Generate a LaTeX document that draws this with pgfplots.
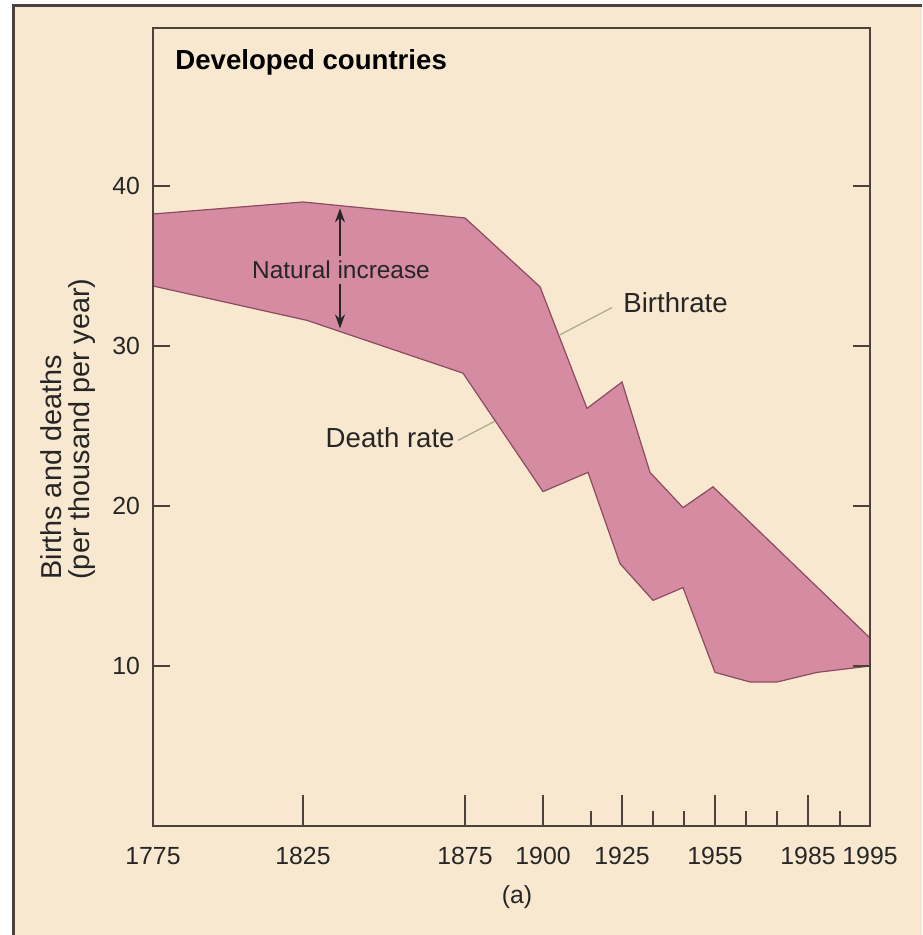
\documentclass[border=0pt]{standalone}
\usepackage{fontspec}
\setmainfont{Liberation Sans}
\usepackage{pgfplots}
\pgfplotsset{compat=1.18}
\usetikzlibrary{arrows.meta}
\definecolor{cream}{RGB}{249,232,208}
\definecolor{band}{RGB}{213,139,161}
\definecolor{bandedge}{RGB}{140,75,95}
\definecolor{axcol}{RGB}{75,66,60}
\definecolor{leader}{RGB}{165,170,145}
\begin{document}
\begin{tikzpicture}
\fill[white] (0,0) rectangle (461pt,467.5pt);
\fill[cream] (6pt,0) rectangle (461pt,465pt);
\draw[axcol, line width=1.5pt] (6.5pt,0) -- (6.5pt,464.75pt) -- (461pt,464.75pt);
\begin{axis}[
  at={(76.5pt,54.5pt)}, anchor=south west,
  scale only axis, width=358.5pt, height=399pt,
  xmin=153, xmax=870, ymin=0, ymax=49.875,
  clip=false, axis on top,
  axis line style={axcol, line width=0.8pt},
  xtick={303,465,543,622,715},
  xticklabels={1825,1875,1900,1925,1955},
  minor xtick={591,653,684,746,777,808,840},
  extra x ticks={153,808,870},
  extra x tick labels={1775,1985,1995},
  extra x tick style={/pgfplots/major tick length=0pt},
  ytick={10,20,30,40},
  ytick pos=both, yticklabel pos=left,
  xtick pos=bottom,
  tick align=inside,
  major x tick style={/pgfplots/major tick length=15.5pt},
  major y tick style={/pgfplots/major tick length=8.5pt},
  minor tick length=7.5pt,
  tick style={axcol, line width=0.8pt},
  ticklabel style={font=\fontsize{12.4}{14}\selectfont, text=black!85},
  /pgf/number format/assume math mode=true,
  yticklabel style={xshift=-3pt},
  xticklabel style={yshift=-7pt},
]
% birthrate (upper edge, left to right), then death rate (lower edge, right to left)
\addplot[fill=band, draw=bandedge, line width=0.6pt] coordinates {
 (153,38.25) (303,39.0) (465,38.0) (540,33.7) (587,26.1) (622,27.75)
 (650,22.1) (683,19.9) (713,21.2) (870,11.75)
 (870,10.0) (817,9.6) (777,9.0) (750,9.0) (715,9.6) (683,14.9) (653,14.1)
 (620,16.4) (588,22.1) (543,20.9) (463,28.3) (307,31.6) (153,33.75)} -- cycle;

\node[anchor=west, inner sep=0pt, font=\bfseries\fontsize{13.8}{16}\selectfont] at (axis cs:175,47.75) {Developed countries};
\draw[-{Stealth[length=7pt,width=5pt]}, line width=0.6pt, black!85] (axis cs:340,35.6) -- (axis cs:340,38.6);
\draw[-{Stealth[length=7pt,width=5pt]}, line width=0.6pt, black!85] (axis cs:340,33.9) -- (axis cs:340,31.1);
\node[font=\fontsize{12.2}{14}\selectfont, text=black!85] at (axis cs:341,34.75) {Natural increase};
\draw[leader, line width=0.6pt] (axis cs:560,30.7) -- (axis cs:612,32.4);
\node[anchor=west, inner sep=0pt, font=\fontsize{13.8}{16}\selectfont, text=black!85] at (axis cs:623,32.7) {Birthrate};
\draw[leader, line width=0.6pt] (axis cs:458,24.1) -- (axis cs:495,25.3);
\node[anchor=east, inner sep=0pt, font=\fontsize{13.8}{16}\selectfont, text=black!85] at (axis cs:455,24.25) {Death rate};
\node[font=\fontsize{12.4}{14}\selectfont, text=black!85] at (axis cs:517,-4.44) {(a)};
\node[rotate=90, align=left, anchor=west, inner sep=0pt, font=\fontsize{14.4}{14}\selectfont, text=black!85] at (axis cs:68.5,15.375) {Births and deaths\\(per thousand per year)};
\end{axis}
\pgfresetboundingbox
\path[use as bounding box] (0,0) rectangle (461pt,467.5pt);
\end{tikzpicture}
\end{document}
